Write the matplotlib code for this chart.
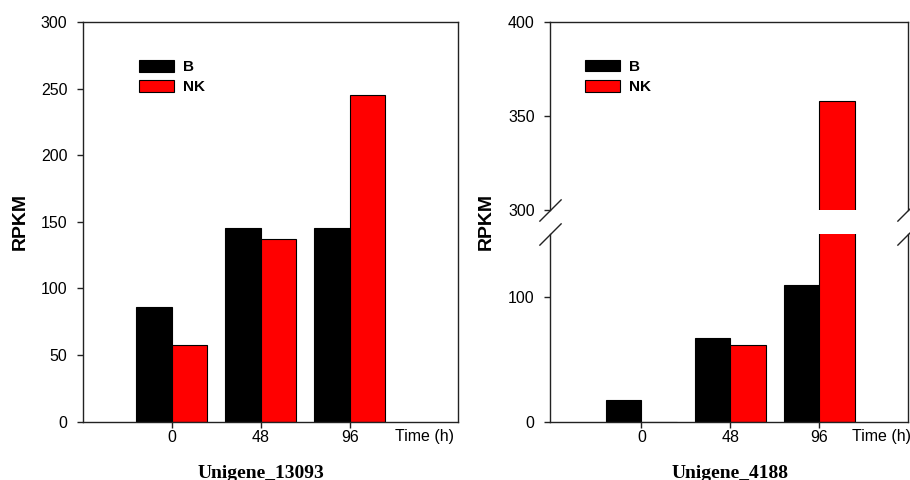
import matplotlib
matplotlib.use('Agg')
import matplotlib.pyplot as plt
import matplotlib.transforms as mtransforms
import numpy as np

# ---- data ----
times = ['0', '48', '96']
series = ['B', 'NK']
colors = ['#000000', '#ff0000']
gene1 = 'Unigene_13093'
b1 = [86, 145, 145]
nk1 = [57.5, 137, 245.5]
gene2 = 'Unigene_4188'
b2 = [17, 67, 109]
nk2 = [0, 61, 358]
yticks1 = [0, 50, 100, 150, 200, 250, 300]
yticks2_low = [0, 100]
yticks2_high = [300, 350, 400]

plt.rcParams['font.family'] = ['Liberation Sans', 'DejaVu Sans']

W, H = 910, 480
fig = plt.figure(figsize=(W / 100, H / 100), dpi=100)


def rect(l, t, r, b):
    return [l / W, 1 - b / H, (r - l) / W, (b - t) / H]


ax1 = fig.add_axes(rect(82.7, 22, 458.3, 421.5))
axt = fig.add_axes(rect(550, 22, 908, 210))
axb = fig.add_axes(rect(550, 234.3, 908, 421.5))

x = np.arange(len(times))
bw = 0.4
spine_c = '#222222'


def style(ax):
    for s in ax.spines.values():
        s.set_linewidth(1.0)
        s.set_color(spine_c)
    ax.tick_params(axis='both', direction='out', length=4, width=1,
                   color=spine_c, labelsize=11.5, top=False, right=False)
    ax.tick_params(axis='y', pad=7)
    ax.tick_params(axis='x', pad=2)


def draw_bars(ax, b, nk):
    h1 = ax.bar(x - bw / 2, b, bw, color=colors[0], edgecolor='black', linewidth=0.8)
    h2 = ax.bar(x + bw / 2, nk, bw, color=colors[1], edgecolor='black', linewidth=0.8)
    return [h1, h2]


def add_legend(ax, handles, anchor):
    ax.legend(handles, series, loc='upper left', bbox_to_anchor=anchor,
              frameon=False, prop={'weight': 'bold', 'size': 11},
              handlelength=2.3, handleheight=0.8, handletextpad=0.6,
              labelspacing=0.4, borderpad=0, borderaxespad=0)


# ---- left panel ----
hs = draw_bars(ax1, b1, nk1)
ax1.set_xlim(-1.0, 3.22)
ax1.set_ylim(0, 300)
ax1.set_yticks(yticks1)
ax1.set_xticks(x)
ax1.set_xticklabels(times)
style(ax1)
add_legend(ax1, hs, (0.150, 0.905))

# ---- right panel (broken axis) ----
for ax in (axt, axb):
    hs2 = draw_bars(ax, b2, nk2)
    ax.set_xlim(-1.03, 3.0)
    ax.set_xticks(x)
    style(ax)
axt.set_ylim(300, 400)
axt.set_yticks(yticks2_high)
axb.set_ylim(0, 150)
axb.set_yticks(yticks2_low)
axb.set_xticklabels(times)
axt.tick_params(axis='x', bottom=False, labelbottom=False)
axt.spines['bottom'].set_visible(False)
axb.spines['top'].set_visible(False)
add_legend(axt, hs2, (0.098, 0.80))

mk = dict(marker=[(-1, -1), (1, 1)], markersize=16, linestyle='none',
          color=spine_c, mec=spine_c, mew=1, clip_on=False)
axt.plot([0, 1], [0, 0], transform=axt.transAxes, **mk)
axb.plot([0, 1], [1, 1], transform=axb.transAxes, **mk)

# ---- texts ----
for xp, yl in ((20.7, 'RPKM'), (486.7, 'RPKM')):
    fig.text(xp / W, 1 - 221 / H, yl, rotation=90, ha='center', va='center',
             fontsize=14, fontweight='bold')

for xp in (395, 852):
    fig.text(xp / W, 1 - 437 / H, 'Time (h)', ha='left', va='center', fontsize=11.5)

for ax, g in ((ax1, gene1), (axb, gene2)):
    tr = mtransforms.blended_transform_factory(ax.transData, fig.transFigure)
    ax.text(1, 1 - 473 / H, g, transform=tr, ha='center', va='center',
            fontsize=14, fontweight='bold', family=['Liberation Serif', 'DejaVu Serif'])

fig.savefig('out.png', dpi=100)
